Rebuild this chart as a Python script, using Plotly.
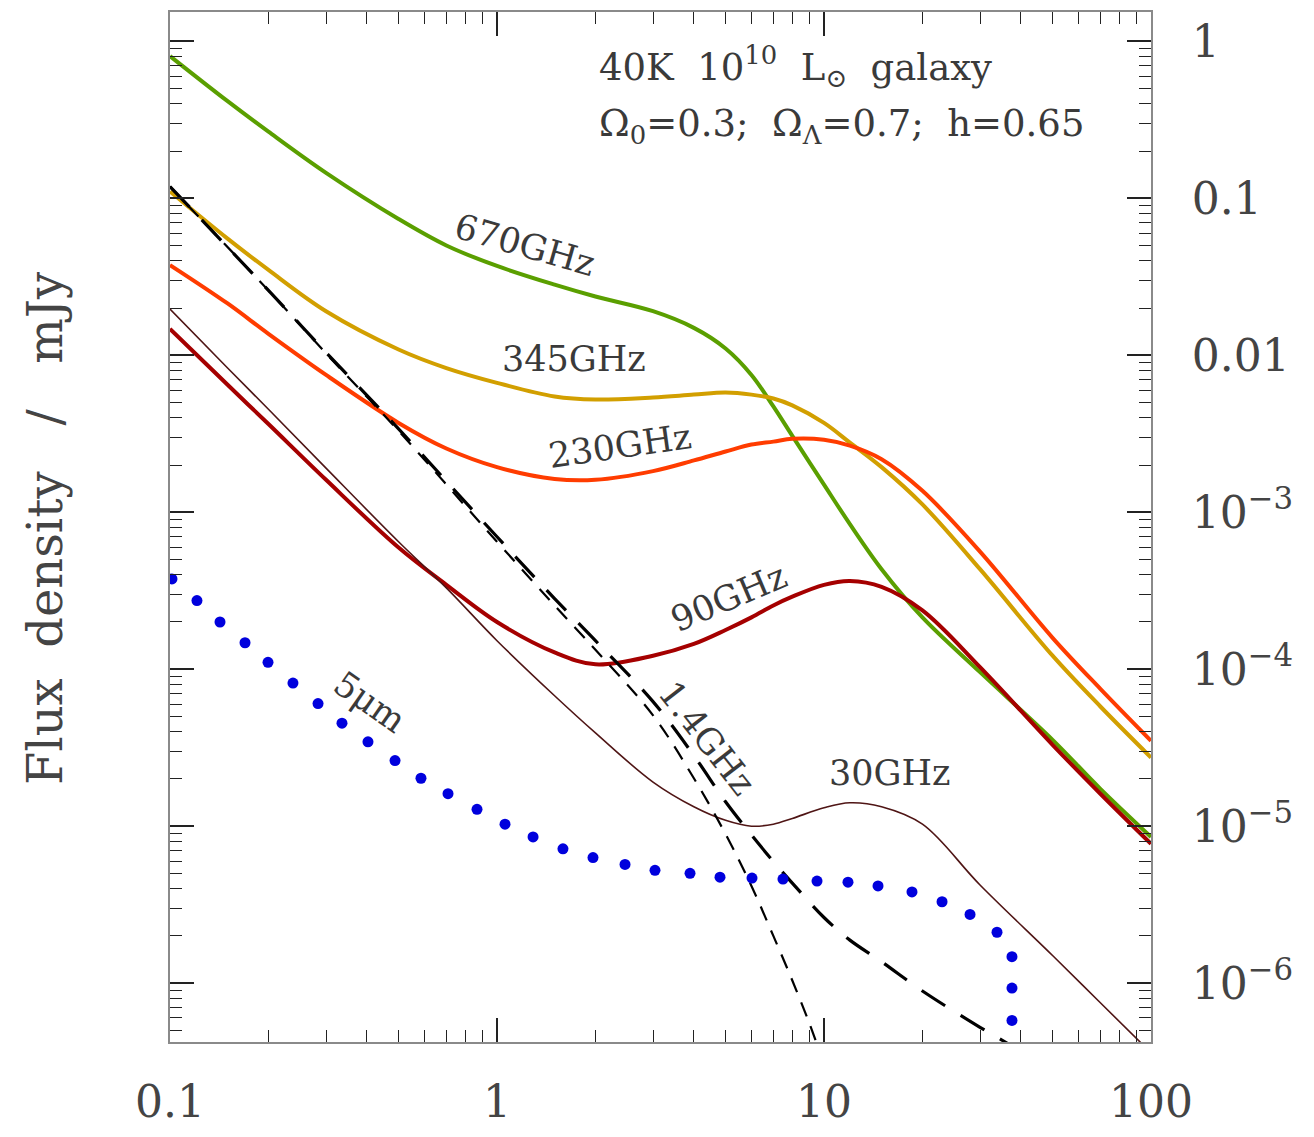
import plotly.graph_objects as go

# Redshift grid shared by the smooth curves
z_grid = [0.1, 0.15, 0.2, 0.3, 0.5, 0.7, 1, 1.5, 2, 3, 4, 5, 6, 7, 8, 10, 12, 15, 20, 30, 50, 70, 100]

f_670 = [0.806, 0.416, 0.266, 0.1454, 0.0739, 0.0501, 0.0371, 0.0282, 0.0237, 0.0191, 0.01496, 0.01106,
         0.0075, 0.00473, 0.00307, 0.0015, 8.41e-4, 4.34e-4, 2.14e-4, 9.58e-5, 3.55e-5, 1.73e-5, 8.54e-6]
f_345 = [0.1106, 0.0554, 0.0350, 0.0191, 0.0109, 0.0083, 0.00668, 0.00547, 0.00523, 0.00539, 0.00562, 0.00579,
         0.00562, 0.00531, 0.00480, 0.00371, 0.00278, 0.00194, 1.122e-3, 4.34e-4, 1.22e-4, 5.79e-5, 2.74e-5]
f_230 = [0.0376, 0.0214, 0.0137, 0.0075, 0.00371, 0.00255, 0.00194, 0.00163, 0.00161, 0.00183, 0.00214, 0.00244,
         0.0027, 0.00282, 0.00294, 0.0029, 0.00266, 0.00218, 0.00137, 5.62e-4, 1.585e-4, 7.5e-5, 3.50e-5]
f_90 = [0.01475, 0.00649, 0.00365, 0.00161, 5.96e-4, 3.45e-4, 2.0e-4, 1.28e-4, 1.075e-4, 1.22e-4, 1.45e-4, 1.778e-4,
        2.14e-4, 2.55e-4, 2.90e-4, 3.45e-4, 3.65e-4, 3.35e-4, 2.37e-4, 1.03e-4, 3.30e-5, 1.61e-5, 7.72e-6]
f_30 = [0.0197, 0.0083, 0.00453, 0.00191, 6.49e-4, 3.30e-4, 1.52e-4, 6.78e-5, 3.93e-5, 1.91e-5, 1.33e-5, 1.09e-5,
        1.0e-5, 1.03e-5, 1.12e-5, 1.31e-5, 1.41e-5, 1.33e-5, 1.03e-5, 4.22e-6, 1.50e-6, 7.5e-7, 3.60e-7]

# 1.4 GHz (two dashed curves)
z_14a = [0.1, 0.2, 0.3, 0.5, 1, 1.5, 2, 3, 4, 5, 6, 7, 8, 9, 9.6]
f_14a = [0.1189, 0.0259, 0.0103, 0.0033, 6.49e-4, 2.55e-4, 1.33e-4, 5.08e-5, 2.02e-5, 8.91e-6, 4.16e-6,
         2.0e-6, 1.04e-6, 5.62e-7, 3.87e-7]
z_14b = [0.1, 0.2, 0.3, 0.5, 1, 1.5, 2, 3, 4, 5, 6, 7, 8, 10, 12, 15, 20, 30, 35, 40]
f_14b = [0.1189, 0.0259, 0.01044, 0.0034, 6.98e-4, 2.82e-4, 1.52e-4, 6.22e-5, 2.82e-5, 1.43e-5, 8.79e-6,
         5.96e-6, 4.34e-6, 2.62e-6, 1.88e-6, 1.37e-6, 8.91e-7, 5.23e-7, 4.34e-7, 3.65e-7]

# 5 micron (dotted)
z_5um = [0.1014, 0.1209, 0.1422, 0.1696, 0.1994, 0.2377, 0.2836, 0.3357, 0.4031, 0.4877, 0.5855, 0.7083,
         0.8687, 1.058, 1.289, 1.591, 1.966, 2.463, 3.042, 3.893, 4.808, 6.023, 7.491, 9.52, 11.84, 14.63,
         18.58, 22.96, 27.96, 33.81, 37.57, 37.57, 37.57]
f_5um = [3.76e-4, 2.74e-4, 2.0e-4, 1.475e-4, 1.106e-4, 8.17e-5, 6.04e-5, 4.53e-5, 3.45e-5, 2.62e-5, 2.02e-5,
         1.61e-5, 1.28e-5, 1.03e-5, 8.54e-6, 7.18e-6, 6.31e-6, 5.71e-6, 5.23e-6, 5.01e-6, 4.73e-6, 4.67e-6,
         4.60e-6, 4.47e-6, 4.40e-6, 4.16e-6, 3.81e-6, 3.30e-6, 2.74e-6, 2.11e-6, 1.475e-6, 9.31e-7, 5.79e-7]

x_tickvals = [0.1, 1, 10, 100]
x_ticktext = ["0.1", "1", "10", "100"]
x_minor = [m * d for d in (0.1, 1, 10) for m in range(2, 10)]
y_tickvals = [1, 0.1, 0.01, 1e-3, 1e-4, 1e-5, 1e-6]
y_ticktext = ["1", "0.1", "0.01", "10<sup>\u22123</sup>", "10<sup>\u22124</sup>",
              "10<sup>\u22125</sup>", "10<sup>\u22126</sup>"]
y_minor = [m * d for d in (1e-7, 1e-6, 1e-5, 1e-4, 1e-3, 1e-2, 1e-1, 1) for m in range(2, 10)]

SERIF = "DejaVu Serif"
TXT = "#3a3a3a"

fig = go.Figure()
fig.add_trace(go.Scatter(x=z_grid, y=f_670, mode="lines", line=dict(color="#5a9f00", width=4, shape="spline")))
fig.add_trace(go.Scatter(x=z_grid, y=f_345, mode="lines", line=dict(color="#d29f00", width=4, shape="spline")))
fig.add_trace(go.Scatter(x=z_grid, y=f_230, mode="lines", line=dict(color="#ff3c00", width=4, shape="spline")))
fig.add_trace(go.Scatter(x=z_grid, y=f_90, mode="lines", line=dict(color="#a50000", width=4, shape="spline")))
fig.add_trace(go.Scatter(x=z_grid, y=f_30, mode="lines", line=dict(color="#4f1515", width=1.6, shape="spline")))
fig.add_trace(go.Scatter(x=z_14a, y=f_14a, mode="lines",
                         line=dict(color="black", width=2.2, dash="15px,11px", shape="spline")))
fig.add_trace(go.Scatter(x=z_14b, y=f_14b, mode="lines",
                         line=dict(color="black", width=3.2, dash="28px,18px", shape="spline")))
fig.add_trace(go.Scatter(x=z_5um, y=f_5um, mode="markers",
                         marker=dict(color="#0000dd", size=11, symbol="circle", line=dict(width=0))))
# carrier trace for the overlay axes that draw the minor ticks
fig.add_trace(go.Scatter(x=[], y=[], xaxis="x2", yaxis="y2", mode="lines", showlegend=False))

common = dict(type="log", showgrid=False, zeroline=False, ticks="inside", tickcolor="#222")

fig.update_layout(
    xaxis=dict(range=[-1, 2], tickmode="array", tickvals=x_tickvals, ticktext=x_ticktext,
               showline=True, linecolor="#8a8a8a", linewidth=2, mirror="allticks",
               ticklen=24, tickwidth=1.6, ticklabelstandoff=20,
               tickfont=dict(family=SERIF, size=44, color="#444"), **common),
    yaxis=dict(range=[-6.375, 0.1875], side="right", tickmode="array", tickvals=y_tickvals,
               ticktext=y_ticktext, showline=True, linecolor="#8a8a8a", linewidth=2, mirror="allticks",
               ticklen=24, tickwidth=1.6, ticklabelstandoff=30,
               tickfont=dict(family=SERIF, size=44, color="#444"), **common),
    xaxis2=dict(range=[-1, 2], overlaying="x", anchor="y2", side="bottom", tickmode="array",
                tickvals=x_minor, showticklabels=False, ticklen=12, tickwidth=1.3,
                showline=False, mirror="allticks", **common),
    yaxis2=dict(range=[-6.375, 0.1875], overlaying="y", anchor="x2", side="right", tickmode="array",
                tickvals=y_minor, showticklabels=False, ticklen=12, tickwidth=1.3,
                showline=False, mirror="allticks", **common),
)

ann = []
def lab(text, px, py, angle=0, size=35):
    ann.append(dict(text=text, xref="paper", yref="paper", x=(px - 170) / 981, y=(1060 - py) / 1050,
                    showarrow=False, textangle=angle, xanchor="center", yanchor="middle",
                    font=dict(family=SERIF, size=size, color=TXT)))

lab("670GHz", 525, 248, 16)
lab("345GHz", 574, 364, 0)
lab("230GHz", 620, 452, -8)
lab("90GHz", 728, 607, -23)
lab("1.4GHz", 707, 750, 52)
lab("30GHz", 889, 786, 0)
lab("5\u03bcm", 370, 713, 35)

ann.append(dict(text="40K  10<sup>10</sup>  L<sub>\u2299</sub>  galaxy", xref="paper", yref="paper",
                x=(597 - 170) / 981, y=(1060 - 66) / 1050, xanchor="left", yanchor="middle",
                showarrow=False, font=dict(family=SERIF, size=37, color=TXT)))
ann.append(dict(text="\u03a9<sub>0</sub>=0.3;  \u03a9<sub>\u039b</sub>=0.7;  h=0.65", xref="paper", yref="paper",
                x=(597 - 170) / 981, y=(1060 - 126) / 1050, xanchor="left", yanchor="middle",
                showarrow=False, font=dict(family=SERIF, size=37, color=TXT)))
ann.append(dict(text="Flux  density   /   mJy", xref="paper", yref="paper",
                x=(45 - 170) / 981, y=(1060 - 537) / 1050, xanchor="center", yanchor="middle",
                textangle=-90, showarrow=False, font=dict(family=SERIF, size=48, color="#444")))

fig.update_layout(width=1314, height=1137, margin=dict(l=170, r=163, t=10, b=77),
                  plot_bgcolor="white", paper_bgcolor="white", showlegend=False, annotations=ann)

fig.write_html("out.html")
